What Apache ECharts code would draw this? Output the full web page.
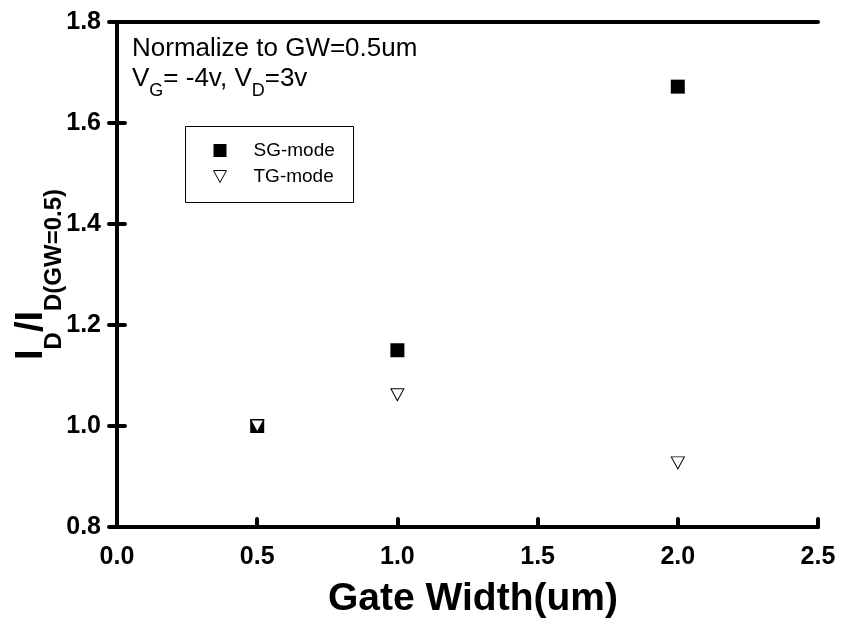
<!DOCTYPE html>
<html>
<head>
<meta charset="utf-8">
<title>Gate Width</title>
<script src="https://cdn.jsdelivr.net/npm/echarts@6/dist/echarts.min.js"></script>
<style>
  html, body { margin: 0; padding: 0; background: #fff; }
  #main { width: 842px; height: 631px; }
</style>
</head>
<body>
<div id="main"></div>
<script>
// data
var gateWidth = [0.5, 1.0, 2.0];
var sgMode = [1.0, 1.15, 1.672];
var tgMode = [1.0, 1.062, 0.927];
var seriesNames = ['SG-mode', 'TG-mode'];

var font = '"Liberation Sans", Arial, Helvetica, sans-serif';

function pairs(xs, ys) {
    var out = [];
    for (var i = 0; i < xs.length; i++) out.push([xs[i], ys[i]]);
    return out;
}

var chartDom = document.getElementById('main');
var myChart = echarts.init(chartDom);
var option;

var axisLine = { show: true, lineStyle: { color: '#000', width: 4 } };
var tick = { show: true, inside: true, length: 8, lineStyle: { color: '#000', width: 4, cap: 'round' } };
var label = {
    color: '#000', fontSize: 25, fontWeight: 'bold', fontFamily: font,
    formatter: function (v) { return v.toFixed(1); }
};
// upside-down triangle for the legend
var downTriangle = 'path://M0,0L12,0L6,11Z';

option = {
    animation: false,
    backgroundColor: '#fff',
    grid: { left: 117, right: 24, top: 22, bottom: 104, outerBoundsMode: 'none' },
    xAxis: [{
        type: 'value', min: 0, max: 2.5, interval: 0.5,
        axisLine: axisLine, axisTick: tick,
        axisLabel: Object.assign({ margin: 18 }, label),
        splitLine: { show: false },
        name: 'Gate Width(um)', nameLocation: 'middle', nameGap: 53, nameMoveOverlap: false,
        nameTextStyle: { color: '#000', fontSize: 39, fontWeight: 'bold', fontFamily: font, padding: [0, 0, 0, 11] }
    }, {
        type: 'value', position: 'top', min: 0, max: 2.5, interval: 0.5,
        axisLine: axisLine, axisTick: { show: false }, axisLabel: { show: false },
        splitLine: { show: false }
    }],
    yAxis: [{
        type: 'value', min: 0.8, max: 1.8, interval: 0.2,
        axisLine: axisLine, axisTick: tick,
        axisLabel: Object.assign({ margin: 16 }, label),
        splitLine: { show: false },
        name: '{m|I}{s|D}{m|/I}{s|D(GW=0.5)}', nameLocation: 'middle', nameGap: 66, nameMoveOverlap: false,
        nameTextStyle: {
            color: '#000', fontFamily: font,
            rich: {
                m: { fontSize: 38, fontWeight: 'bold', fontFamily: font, color: '#000', lineHeight: 38, verticalAlign: 'top' },
                s: { fontSize: 24, fontWeight: 'bold', fontFamily: font, color: '#000', lineHeight: 24, verticalAlign: 'top', padding: [29, 0, 0, 0] }
            }
        }
    }, {
        type: 'value', position: 'right', min: 0.8, max: 1.8, interval: 0.2,
        axisLine: axisLine, axisTick: tick, axisLabel: { show: false },
        splitLine: { show: false }
    }],
    legend: {
        orient: 'vertical', left: 213, top: 141, padding: 0,
        itemWidth: 13, itemHeight: 13, itemGap: 7,
        textStyle: { color: '#000', fontSize: 19, fontFamily: font, lineHeight: 18, padding: [0, 0, 0, 22] },
        data: [
            { name: seriesNames[0], icon: 'rect', itemStyle: { color: '#000', opacity: 1 } },
            { name: seriesNames[1], icon: downTriangle, itemStyle: { color: '#fff', borderColor: '#000', borderWidth: 1, opacity: 1 } }
        ]
    },
    graphic: [{
        type: 'rect', left: 183, top: 124, silent: true,
        shape: { width: 168, height: 76 },
        style: { fill: 'none', stroke: '#000', lineWidth: 1 }
    }, {
        type: 'text', left: 132, top: 36,
        style: { text: 'Normalize to GW=0.5um', fill: '#000', fontSize: 26, fontFamily: font }
    }, {
        type: 'text', left: 132, top: 66,
        style: {
            text: '{m|V}{s|G}{m|= -4v, V}{s|D}{m|=3v}',
            rich: {
                m: { fontSize: 26, fontFamily: font, fill: '#000', lineHeight: 30, verticalAlign: 'top' },
                s: { fontSize: 18, fontFamily: font, fill: '#000', lineHeight: 18, verticalAlign: 'top', padding: [16, 0, 0, 0] }
            }
        }
    }],
    series: [{
        name: seriesNames[0],
        type: 'scatter',
        symbol: 'rect',
        symbolSize: 14,
        itemStyle: { color: '#000', opacity: 1 },
        data: pairs(gateWidth, sgMode)
    }, {
        name: seriesNames[1],
        type: 'scatter',
        symbol: 'triangle',
        symbolRotate: 180,
        symbolSize: [13, 12],
        itemStyle: { color: '#fff', borderColor: '#000', borderWidth: 1, opacity: 1 },
        data: pairs(gateWidth, tgMode)
    }]
};

option && myChart.setOption(option);
</script>
</body>
</html>
